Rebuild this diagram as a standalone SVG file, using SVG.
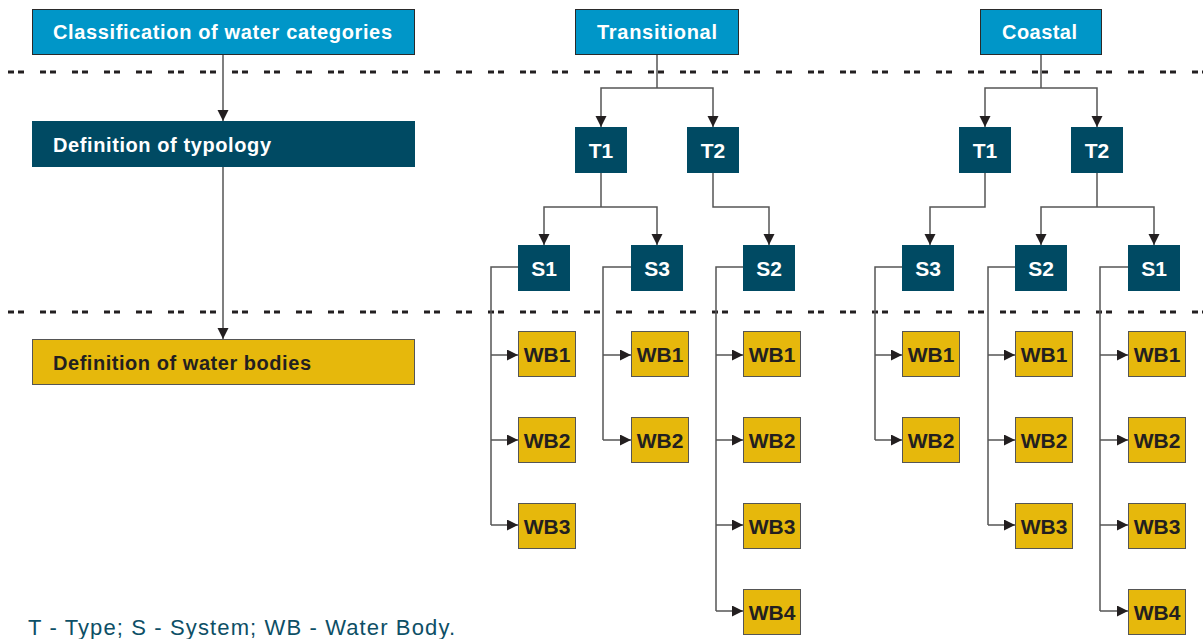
<svg xmlns="http://www.w3.org/2000/svg" width="1203" height="639" viewBox="0 0 1203 639">
<defs>
<marker id="ah" markerUnits="userSpaceOnUse" markerWidth="12" markerHeight="12" refX="11" refY="5.5" orient="auto">
<path d="M0,0 L11,5.5 L0,11 Z" fill="#231f20"/>
</marker>
<style>
.blue{fill:#0096c8;stroke:#2a2a2a;stroke-width:1}
.teal{fill:#004a63}
.yel{fill:#e6b80c;stroke:#555;stroke-width:1}
.lbl{font-family:"Liberation Sans",Arial,sans-serif;font-weight:bold;font-size:20px}
.big{font-size:21px}
.w{fill:#fff}
.d{fill:#231f20}
.c{text-anchor:middle}
.con{fill:none;stroke:#555;stroke-width:1.5}
.arr{marker-end:url(#ah)}
.dash{stroke:#231f20;stroke-width:3;stroke-dasharray:6 4 6 16}
</style>
</defs>
<rect width="1203" height="639" fill="#fff"/>
<g id="separators">
<line class="dash" x1="8" y1="72" x2="1203" y2="72"/>
<line class="dash" x1="8" y1="312" x2="1203" y2="312"/>
</g>
<g id="connectors">
<path class="con arr" d="M223,54 V121"/>
<path class="con arr" d="M223,166 V339"/>
<path class="con" d="M657,54 V88"/>
<path class="con arr" d="M657,88 H601 V127"/>
<path class="con arr" d="M657,88 H713 V127"/>
<path class="con" d="M601,172 V207"/>
<path class="con arr" d="M601,207 H544 V245"/>
<path class="con arr" d="M601,207 H657 V245"/>
<path class="con arr" d="M713,172 V207 H769 V245"/>
<path class="con" d="M1041,54 V88"/>
<path class="con arr" d="M1041,88 H985 V127"/>
<path class="con arr" d="M1041,88 H1097 V127"/>
<path class="con arr" d="M985,172 V207 H930 V245"/>
<path class="con" d="M1097,172 V207"/>
<path class="con arr" d="M1097,207 H1041 V245"/>
<path class="con arr" d="M1097,207 H1154 V245"/>
<path class="con" d="M518,267 H491 V525"/>
<path class="con arr" d="M491,355 H518"/>
<path class="con arr" d="M491,440 H518"/>
<path class="con arr" d="M491,525 H518"/>
<path class="con" d="M631,267 H603 V440"/>
<path class="con arr" d="M603,355 H631"/>
<path class="con arr" d="M603,440 H631"/>
<path class="con" d="M743,267 H716 V611"/>
<path class="con arr" d="M716,355 H743"/>
<path class="con arr" d="M716,440 H743"/>
<path class="con arr" d="M716,525 H743"/>
<path class="con arr" d="M716,611 H743"/>
<path class="con" d="M902,267 H875 V440"/>
<path class="con arr" d="M875,355 H902"/>
<path class="con arr" d="M875,440 H902"/>
<path class="con" d="M1015,267 H988 V525"/>
<path class="con arr" d="M988,355 H1015"/>
<path class="con arr" d="M988,440 H1015"/>
<path class="con arr" d="M988,525 H1015"/>
<path class="con" d="M1128,267 H1100 V611"/>
<path class="con arr" d="M1100,355 H1128"/>
<path class="con arr" d="M1100,440 H1128"/>
<path class="con arr" d="M1100,525 H1128"/>
<path class="con arr" d="M1100,611 H1128"/>
</g>
<g id="classification"><rect class="blue" x="32.5" y="9.5" width="382" height="45"/><text class="lbl w" x="53" y="39" textLength="339" lengthAdjust="spacing">Classification of water categories</text></g>
<g id="typology"><rect class="teal" x="32" y="121" width="383" height="46"/><text class="lbl w" x="53" y="152" textLength="218" lengthAdjust="spacing">Definition of typology</text></g>
<g id="waterbodies"><rect class="yel" x="32.5" y="339.5" width="382" height="45"/><text class="lbl d" x="53" y="370" textLength="258" lengthAdjust="spacing">Definition of water bodies</text></g>

<g id="transitional"><rect class="blue" x="575.5" y="9.5" width="163" height="45"/><text class="lbl w" x="597" y="39" textLength="120" lengthAdjust="spacing">Transitional</text></g>
<g id="tr-T1"><rect class="teal" x="575" y="127" width="52" height="46"/><text class="lbl big w c" x="601" y="158">T1</text></g>
<g id="tr-T2"><rect class="teal" x="687" y="127" width="52" height="46"/><text class="lbl big w c" x="713" y="158">T2</text></g>
<g id="tr-S1"><rect class="teal" x="518" y="245" width="52" height="46"/><text class="lbl big w c" x="544" y="276">S1</text></g>
<g id="tr-S3"><rect class="teal" x="631" y="245" width="52" height="46"/><text class="lbl big w c" x="657" y="276">S3</text></g>
<g id="tr-S2"><rect class="teal" x="743" y="245" width="52" height="46"/><text class="lbl big w c" x="769" y="276">S2</text></g>
<g id="tr-S1-WB1"><rect class="yel" x="518.5" y="331.5" width="57" height="45"/><text class="lbl big d c" x="547" y="362">WB1</text></g>
<g id="tr-S1-WB2"><rect class="yel" x="518.5" y="417.5" width="57" height="45"/><text class="lbl big d c" x="547" y="448">WB2</text></g>
<g id="tr-S1-WB3"><rect class="yel" x="518.5" y="503.5" width="57" height="45"/><text class="lbl big d c" x="547" y="534">WB3</text></g>
<g id="tr-S3-WB1"><rect class="yel" x="631.5" y="331.5" width="57" height="45"/><text class="lbl big d c" x="660" y="362">WB1</text></g>
<g id="tr-S3-WB2"><rect class="yel" x="631.5" y="417.5" width="57" height="45"/><text class="lbl big d c" x="660" y="448">WB2</text></g>
<g id="tr-S2-WB1"><rect class="yel" x="743.5" y="331.5" width="57" height="45"/><text class="lbl big d c" x="772" y="362">WB1</text></g>
<g id="tr-S2-WB2"><rect class="yel" x="743.5" y="417.5" width="57" height="45"/><text class="lbl big d c" x="772" y="448">WB2</text></g>
<g id="tr-S2-WB3"><rect class="yel" x="743.5" y="503.5" width="57" height="45"/><text class="lbl big d c" x="772" y="534">WB3</text></g>
<g id="tr-S2-WB4"><rect class="yel" x="743.5" y="589.5" width="57" height="45"/><text class="lbl big d c" x="772" y="620">WB4</text></g>

<g id="coastal"><rect class="blue" x="980.5" y="9.5" width="121" height="45"/><text class="lbl w" x="1002" y="39" textLength="75" lengthAdjust="spacing">Coastal</text></g>
<g id="co-T1"><rect class="teal" x="959" y="127" width="52" height="46"/><text class="lbl big w c" x="985" y="158">T1</text></g>
<g id="co-T2"><rect class="teal" x="1071" y="127" width="52" height="46"/><text class="lbl big w c" x="1097" y="158">T2</text></g>
<g id="co-S3"><rect class="teal" x="902" y="245" width="52" height="46"/><text class="lbl big w c" x="928" y="276">S3</text></g>
<g id="co-S2"><rect class="teal" x="1015" y="245" width="52" height="46"/><text class="lbl big w c" x="1041" y="276">S2</text></g>
<g id="co-S1"><rect class="teal" x="1128" y="245" width="52" height="46"/><text class="lbl big w c" x="1154" y="276">S1</text></g>
<g id="co-S3-WB1"><rect class="yel" x="902.5" y="331.5" width="57" height="45"/><text class="lbl big d c" x="931" y="362">WB1</text></g>
<g id="co-S3-WB2"><rect class="yel" x="902.5" y="417.5" width="57" height="45"/><text class="lbl big d c" x="931" y="448">WB2</text></g>
<g id="co-S2-WB1"><rect class="yel" x="1015.5" y="331.5" width="57" height="45"/><text class="lbl big d c" x="1044" y="362">WB1</text></g>
<g id="co-S2-WB2"><rect class="yel" x="1015.5" y="417.5" width="57" height="45"/><text class="lbl big d c" x="1044" y="448">WB2</text></g>
<g id="co-S2-WB3"><rect class="yel" x="1015.5" y="503.5" width="57" height="45"/><text class="lbl big d c" x="1044" y="534">WB3</text></g>
<g id="co-S1-WB1"><rect class="yel" x="1128.5" y="331.5" width="57" height="45"/><text class="lbl big d c" x="1157" y="362">WB1</text></g>
<g id="co-S1-WB2"><rect class="yel" x="1128.5" y="417.5" width="57" height="45"/><text class="lbl big d c" x="1157" y="448">WB2</text></g>
<g id="co-S1-WB3"><rect class="yel" x="1128.5" y="503.5" width="57" height="45"/><text class="lbl big d c" x="1157" y="534">WB3</text></g>
<g id="co-S1-WB4"><rect class="yel" x="1128.5" y="589.5" width="57" height="45"/><text class="lbl big d c" x="1157" y="620">WB4</text></g>

<g id="legend"><text x="28" y="635" font-family="Liberation Sans, Arial, sans-serif" font-size="22" fill="#0d4f66" textLength="427" lengthAdjust="spacing">T - Type; S - System; WB - Water Body.</text></g>
</svg>
